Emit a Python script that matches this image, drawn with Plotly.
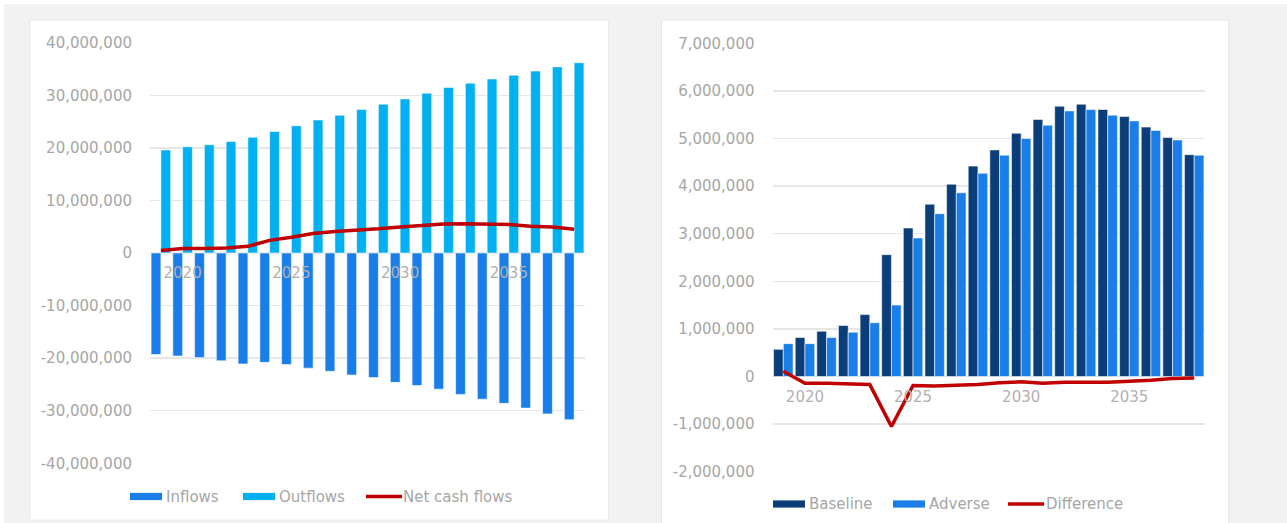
import plotly.graph_objects as go

W, H = 1287, 523

years = list(range(2019, 2039))
inflows = [-19300000, -19600000, -19900000, -20500000, -21100000, -20800000, -21200000,
           -21900000, -22500000, -23200000, -23700000, -24600000, -25200000, -25900000,
           -26900000, -27800000, -28600000, -29500000, -30600000, -31700000]
outflows = [19600000, 20200000, 20600000, 21200000, 22000000, 23100000, 24200000,
            25300000, 26200000, 27300000, 28300000, 29300000, 30400000, 31500000,
            32300000, 33100000, 33800000, 34600000, 35400000, 36200000]
net_cash = [460000, 840000, 840000, 950000, 1270000, 2400000, 3000000, 3700000,
            4100000, 4300000, 4600000, 4950000, 5300000, 5500000, 5550000, 5550000,
            5400000, 5100000, 4950000, 4500000]

baseline = [570000, 820000, 950000, 1070000, 1300000, 2560000, 3120000, 3620000,
            4040000, 4420000, 4760000, 5110000, 5400000, 5680000, 5720000, 5610000,
            5460000, 5240000, 5020000, 4660000]
adverse = [690000, 690000, 820000, 930000, 1130000, 1500000, 2910000, 3420000,
           3860000, 4270000, 4650000, 5000000, 5280000, 5580000, 5610000, 5490000,
           5370000, 5170000, 4970000, 4650000]
difference = [110000, -140000, -140000, -150000, -170000, -1050000, -190000, -200000,
              -190000, -170000, -130000, -110000, -140000, -120000, -120000, -120000,
              -100000, -80000, -40000, -30000]

x_ticks = [2020, 2025, 2030, 2035]
left_yticks = [40000000, 30000000, 20000000, 10000000, 0, -10000000, -20000000, -30000000, -40000000]
left_yticktext = ["40,000,000", "30,000,000", "20,000,000", "10,000,000", "0",
                  "-10,000,000", "-20,000,000", "-30,000,000", "-40,000,000"]
right_yticks = [7000000, 6000000, 5000000, 4000000, 3000000, 2000000, 1000000, 0, -1000000, -2000000]
right_yticktext = ["7,000,000", "6,000,000", "5,000,000", "4,000,000", "3,000,000",
                   "2,000,000", "1,000,000", "0", "-1,000,000", "-2,000,000"]

C_IN = "#1a7ee8"
C_OUT = "#00b0f0"
C_RED = "#c00000"
C_BASE = "#0b3d78"
TXT = "#a6a6a6"
GRID = "#e6e6e6"
FONT = "DejaVu Sans"


def px(x):
    return x / W


def py(y):
    return 1 - y / H


outline = dict(color="rgba(255,255,255,0.55)", width=1)

fig = go.Figure()
fig.add_trace(go.Bar(x=years, y=inflows, name="Inflows", marker=dict(color=C_IN, line=outline),
                     xaxis="x", yaxis="y", offsetgroup="a"))
fig.add_trace(go.Bar(x=years, y=outflows, name="Outflows", marker=dict(color=C_OUT, line=outline),
                     xaxis="x", yaxis="y", offsetgroup="b"))
fig.add_trace(go.Scatter(x=years, y=net_cash, name="Net cash flows", mode="lines",
                         line=dict(color=C_RED, width=3.5), xaxis="x", yaxis="y"))

fig.add_trace(go.Bar(x=years, y=baseline, name="Baseline", marker=dict(color=C_BASE, line=outline),
                     xaxis="x2", yaxis="y2", offsetgroup="a"))
fig.add_trace(go.Bar(x=years, y=adverse, name="Adverse", marker=dict(color=C_IN, line=outline),
                     xaxis="x2", yaxis="y2", offsetgroup="b"))
fig.add_trace(go.Scatter(x=years, y=difference, name="Difference", mode="lines",
                         line=dict(color=C_RED, width=3.5), xaxis="x2", yaxis="y2"))

# domains
lx = [px(150), px(585)]
ly = [py(463.3), py(42.7)]
rx = [px(772.5), px(1205)]
ry = [py(471.7), py(43.3)]
lrange = [-40000000, 40000000]
rrange = [-2000000, 7000000]
lzero = ly[0] + (0 - lrange[0]) / (lrange[1] - lrange[0]) * (ly[1] - ly[0])
rzero = ry[0] + (0 - rrange[0]) / (rrange[1] - rrange[0]) * (ry[1] - ry[0])

tickfont = dict(family=FONT, size=15, color=TXT)
xtickfont = dict(family=FONT, size=15, color="#b0b0b0")

yax_common = dict(showgrid=True, gridcolor=GRID, gridwidth=1.3, zeroline=True, zerolinecolor=GRID,
                  zerolinewidth=1.3, showline=False, ticks="outside", ticklen=14,
                  tickcolor="rgba(0,0,0,0)", tickfont=tickfont, fixedrange=True, automargin=False)
xax_common = dict(showgrid=False, zeroline=False, showline=False, ticks="outside", ticklen=6,
                  tickcolor="rgba(0,0,0,0)", tickfont=xtickfont, range=[2018.5, 2038.5],
                  tickvals=x_ticks, ticktext=[str(v) for v in x_ticks], anchor="free",
                  fixedrange=True, automargin=False)

fig.update_layout(
    width=W, height=H, autosize=False,
    margin=dict(l=0, r=0, t=0, b=0, pad=0, autoexpand=False),
    paper_bgcolor="white", plot_bgcolor="rgba(0,0,0,0)",
    barmode="group", bargap=0.1, bargroupgap=0,
    showlegend=False,
    font=dict(family=FONT, size=15, color=TXT),
    xaxis=dict(domain=lx, position=lzero, **xax_common),
    yaxis=dict(domain=ly, range=lrange, tickvals=left_yticks, ticktext=left_yticktext, anchor="x",
               **yax_common),
    xaxis2=dict(domain=rx, position=rzero, **xax_common),
    yaxis2=dict(domain=ry, range=rrange, tickvals=right_yticks, ticktext=right_yticktext, anchor="x2",
                **yax_common),
)

shapes = [
    dict(type="rect", xref="paper", yref="paper", x0=px(4), x1=px(1287), y0=py(523), y1=py(4),
         fillcolor="#f2f2f2", line=dict(width=0), layer="below"),
    dict(type="rect", xref="paper", yref="paper", x0=px(30), x1=px(608.5), y0=py(520), y1=py(20),
         fillcolor="white", line=dict(color="#e8e8e8", width=1), layer="below"),
    dict(type="rect", xref="paper", yref="paper", x0=px(661.5), x1=px(1228.5), y0=py(530), y1=py(20),
         fillcolor="white", line=dict(color="#e8e8e8", width=1), layer="below"),
]

annotations = []


def legend_item(x0, x1, yc, kind, color, label, tx):
    if kind == "bar":
        shapes.append(dict(type="rect", xref="paper", yref="paper", x0=px(x0), x1=px(x1),
                           y0=py(yc + 3.6), y1=py(yc - 3.6), fillcolor=color, line=dict(width=0)))
    else:
        shapes.append(dict(type="line", xref="paper", yref="paper", x0=px(x0), x1=px(x1),
                           y0=py(yc), y1=py(yc), line=dict(color=color, width=3.5)))
    annotations.append(dict(xref="paper", yref="paper", x=px(tx), y=py(yc), text=label,
                            showarrow=False, xanchor="left", yanchor="middle",
                            font=dict(family=FONT, size=15, color=TXT)))


legend_item(130, 162, 496.5, "bar", C_IN, "Inflows", 164)
legend_item(243, 275, 496.5, "bar", C_OUT, "Outflows", 277)
legend_item(366, 402, 496.5, "line", C_RED, "Net cash flows", 401)
legend_item(773, 805, 504, "bar", C_BASE, "Baseline", 807)
legend_item(893, 925, 504, "bar", C_IN, "Adverse", 927)
legend_item(1008, 1044, 504, "line", C_RED, "Difference", 1044)

fig.update_layout(shapes=shapes, annotations=annotations)

fig.write_html(
    "out.html",
    config={"displayModeBar": False, "staticPlot": True},
    post_script=(
        "var d=document.getElementById('{plot_id}');"
        "d.style.position='fixed';d.style.top='0px';d.style.left='0px';"
        "document.body.style.margin='0';"
        "document.documentElement.style.overflow='hidden';"
        "document.body.style.overflow='hidden';"
    ),
)
